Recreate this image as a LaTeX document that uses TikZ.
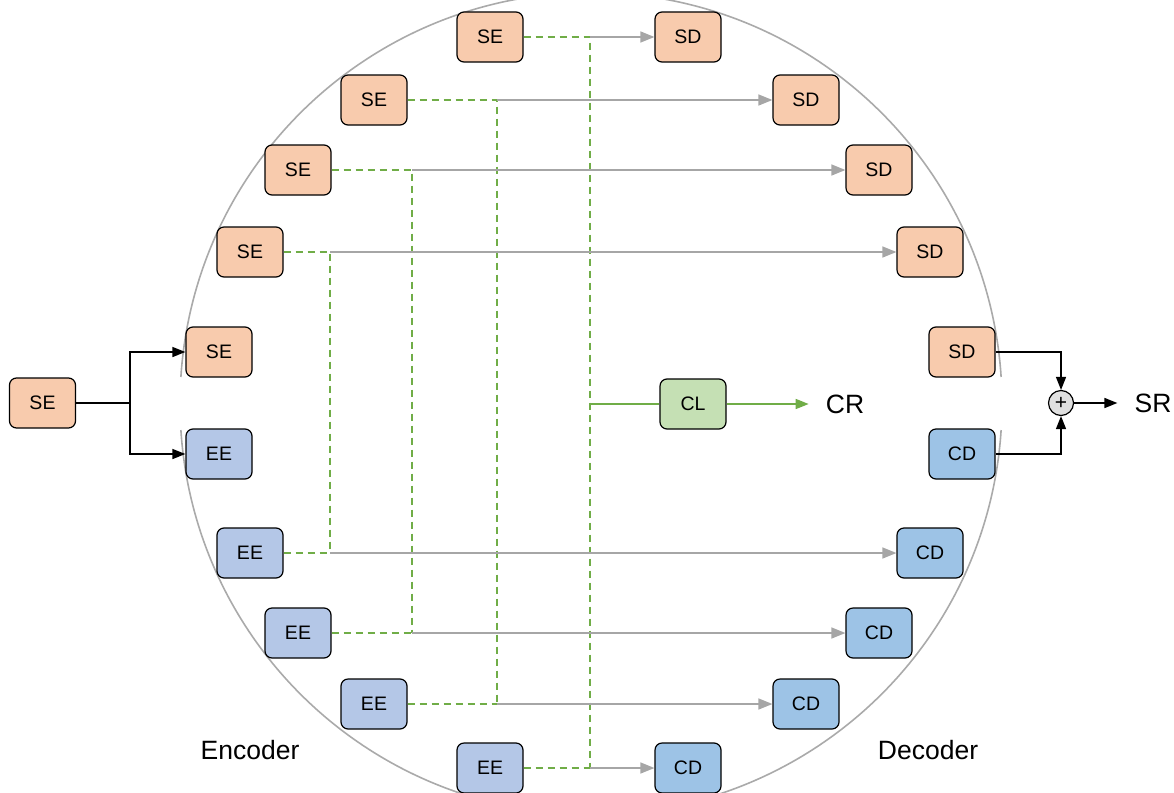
\documentclass[tikz,border=0pt]{standalone}
\usepackage{fontspec}
\setmainfont{Liberation Sans}
\usetikzlibrary{arrows.meta}
\definecolor{seF}{HTML}{F8CBAD}
\definecolor{eeF}{HTML}{B4C7E7}
\definecolor{cdF}{HTML}{9DC3E6}
\definecolor{clF}{HTML}{C5E0B4}
\definecolor{grnL}{HTML}{70AD47}
\definecolor{gryL}{HTML}{A6A6A6}
\definecolor{ringL}{HTML}{AAAAAA}
\tikzset{
  box/.style={draw=black, line width=1.2pt, rounded corners=7pt, minimum width=66pt, minimum height=50pt, inner sep=0pt, font=\fontsize{19.5}{21}\selectfont},
  sebox/.style={box, fill=seF},
  eebox/.style={box, fill=eeF},
  cdbox/.style={box, fill=cdF},
  clbox/.style={box, fill=clF},
  big/.style={font=\fontsize{26.5}{29}\selectfont, inner sep=0pt},
  dsh/.style={draw=grnL, line width=1.3pt, dash pattern=on 7pt off 5pt},
  gry/.style={draw=gryL, line width=1.5pt, -{Triangle[length=14pt,width=11pt]}},
  grn/.style={draw=grnL, line width=1.5pt},
  blk/.style={draw=black, line width=1.4pt},
  blkA/.style={blk, -{Triangle[length=13pt,width=10pt]}},
}
\begin{document}
\begin{tikzpicture}[x=1pt,y=-1pt]
\useasboundingbox (0,0) rectangle (1174,792);
\clip (0,0) rectangle (1174,792);
% ring (two arcs, open at the left and right middle)
\draw[ringL, line width=1.6pt] (591,403.5) ++(3.7:411) arc[start angle=3.7, end angle=176.3, radius=411];
\draw[ringL, line width=1.6pt] (591,403.5) ++(183.7:411) arc[start angle=183.7, end angle=356.3, radius=411];

% junction coordinates
\coordinate (a1) at (590,37);  \coordinate (b1) at (590,768);
\coordinate (a2) at (497,100); \coordinate (b2) at (497,704);
\coordinate (a3) at (412,170); \coordinate (b3) at (412,633);
\coordinate (a4) at (330,252); \coordinate (b4) at (330,553);
\coordinate (jc) at (590,404);
\coordinate (br) at (130,403);

% nodes
\node[sebox] (se0) at (42.5,403) {SE};
\node[sebox] (se1) at (490,37) {SE};
\node[sebox] (se2) at (374,100) {SE};
\node[sebox] (se3) at (298,170) {SE};
\node[sebox] (se4) at (250,252) {SE};
\node[sebox] (se5) at (219,352) {SE};
\node[eebox] (ee1) at (219,454) {EE};
\node[eebox] (ee2) at (250,553) {EE};
\node[eebox] (ee3) at (298,633) {EE};
\node[eebox] (ee4) at (374,704) {EE};
\node[eebox] (ee5) at (490,768) {EE};

\node[sebox] (sd1) at (688,37) {SD};
\node[sebox] (sd2) at (806,100) {SD};
\node[sebox] (sd3) at (879,170) {SD};
\node[sebox] (sd4) at (930,252) {SD};
\node[sebox] (sd5) at (962,352) {SD};
\node[cdbox] (cd1) at (962,454) {CD};
\node[cdbox] (cd2) at (930,553) {CD};
\node[cdbox] (cd3) at (879,633) {CD};
\node[cdbox] (cd4) at (806,704) {CD};
\node[cdbox] (cd5) at (688,768) {CD};

\node[clbox] (cl) at (693,404) {CL};
\node[big] (cr) at (845,404) {CR};
\node[draw=black, line width=1.2pt, fill=black!12, circle, minimum size=25pt, inner sep=0pt, font=\fontsize{21}{21}\selectfont] (plus) at (1061,403) {+};
\node[big] (sr) at (1153,403) {SR};

\node[big] (enc) at (250,750) {Encoder};
\node[big] (dec) at (928,750) {Decoder};

% green dashed skip paths
\draw[dsh] (se1.east) -- (a1) -- (b1);
\draw[dsh] (se2.east) -- (a2) -- (b2);
\draw[dsh] (se3.east) -- (a3) -- (b3);
\draw[dsh] (se4.east) -- (a4) -- (b4);
\draw[dsh] (ee5.east) -- (b1);
\draw[dsh] (ee4.east) -- (b2);
\draw[dsh] (ee3.east) -- (b3);
\draw[dsh] (ee2.east) -- (b4);
% gray arrows
\draw[gry] (a1) -- (sd1.west);
\draw[gry] (a2) -- (sd2.west);
\draw[gry] (a3) -- (sd3.west);
\draw[gry] (a4) -- (sd4.west);
\draw[gry] (b1) -- (cd5.west);
\draw[gry] (b2) -- (cd4.west);
\draw[gry] (b3) -- (cd3.west);
\draw[gry] (b4) -- (cd2.west);

% classifier
\draw[grn] (jc) -- (cl.west);
\draw[grn, -{Triangle[length=13pt,width=10pt]}, shorten >=17pt] (cl.east) -- (cr.west);

% left branch
\draw[blk] (se0.east) -- (br);
\draw[blkA] (br) |- (se5.west);
\draw[blkA] (br) |- (ee1.west);

% right merge
\draw[blkA] (sd5.east) -| (plus.north);
\draw[blkA] (cd1.east) -| (plus.south);
\draw[blkA, shorten >=17pt] (plus.east) -- (sr.west);
\end{tikzpicture}
\end{document}
